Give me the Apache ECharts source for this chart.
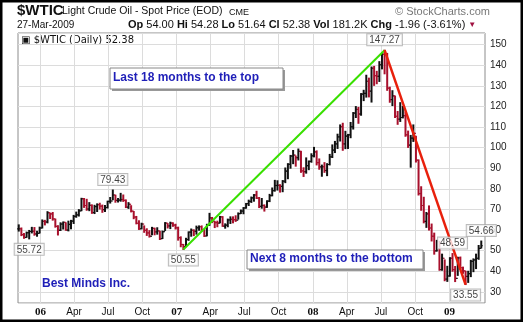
<!DOCTYPE html>
<html>
<head>
<meta charset="utf-8">
<script src="https://cdn.jsdelivr.net/npm/echarts@6/dist/echarts.min.js"></script>
<style>
  html, body { margin: 0; padding: 0; background: #fff; }
  #chart { width: 523px; height: 322px; }
</style>
</head>
<body>
<div id="chart"></div>
<script>
// Weekly bars (Friday closes), first week ends 4-Nov-2005
const firstWeek = Date.UTC(2005, 10, 4);
const DAY = 86400000;

const weekClose = [
  60.6, 57.8, 56.4, 58.7, 59.3, 59.4, 58.1, 58.4, 61.0,
  64.2, 63.9, 68.4, 67.8, 65.4, 61.8, 59.9, 62.9, 63.7, 60.0, 62.7, 64.3, 66.6,
  67.4, 69.3, 75.2, 71.9, 70.2, 72.0, 68.5, 71.4, 72.3, 71.6, 69.9, 70.9, 73.9,
  74.1, 77.0, 74.4, 74.5, 74.8, 74.4, 71.1, 72.5, 69.2, 66.3, 63.3, 60.6, 62.9,
  59.8, 58.6, 57.0, 60.8, 59.1, 59.6, 55.8, 59.2, 63.4, 62.0, 63.4, 62.4, 61.1,
  56.3, 53.0, 52.0, 55.4, 59.0, 59.9, 59.4, 61.1, 61.6, 60.1, 57.1, 62.3, 65.9,
  64.3, 63.6, 63.4, 66.4, 61.9, 62.4, 64.9, 65.2, 65.1, 64.8, 68.0, 69.2, 70.7,
  72.8, 73.9, 75.6, 77.0, 75.5, 71.5, 71.9, 71.1, 74.0, 76.7, 79.1, 81.6, 81.7,
  81.2, 83.7, 88.6, 91.9, 95.9, 96.3, 95.1, 98.2, 88.7, 88.3, 91.3, 93.3, 96.0,
  97.9, 92.7, 90.6, 90.7, 88.9, 91.8, 95.5, 98.8, 101.8, 105.2, 110.2, 101.8, 105.6,
  106.2, 110.1, 116.7, 118.5, 116.3, 125.9, 126.3, 132.2, 127.4, 138.5, 134.9, 134.6, 140.2,
  145.3, 145.1, 128.9, 123.3, 125.1, 115.2, 113.8, 114.6, 115.5, 106.2, 101.2, 104.6, 106.9,
  93.9, 77.7, 71.9, 64.2, 67.8, 61.0, 57.0, 49.9, 54.4, 40.8, 46.3, 36.2, 37.7,
  46.3, 40.8, 36.5, 46.5, 41.7, 40.2, 37.5, 38.9, 44.8, 45.5, 46.3, 51.1, 52.38
];
const weekHigh = [
  62.5, 61.0, 58.3, 59.0, 59.8, 61.3, 61.2, 59.4, 61.4,
  64.9, 64.7, 68.9, 68.2, 68.5, 65.3, 62.1, 63.5, 63.9, 63.5, 64.3, 64.7, 67.1,
  68.7, 69.9, 75.4, 75.3, 74.9, 73.3, 72.2, 72.0, 72.7, 73.0, 72.1, 71.9, 74.0,
  75.8, 79.43, 76.9, 75.3, 77.8, 77.0, 74.6, 73.3, 71.8, 69.0, 66.6, 64.5, 63.3,
  62.0, 60.6, 59.7, 61.3, 60.9, 61.1, 59.4, 59.5, 63.6, 63.1, 63.8, 63.5, 62.8,
  61.4, 56.7, 53.0, 56.0, 59.1, 60.5, 60.1, 61.9, 62.0, 62.0, 60.2, 62.8, 68.1,
  66.1, 64.2, 64.3, 66.6, 66.5, 63.0, 65.3, 66.4, 66.4, 66.9, 68.3, 69.7, 70.9,
  72.9, 74.5, 76.0, 77.2, 78.8, 75.8, 75.3, 72.2, 74.2, 77.3, 80.4, 84.1, 83.9,
  82.0, 84.0, 90.1, 92.2, 96.2, 98.6, 95.9, 99.3, 98.2, 90.2, 95.0, 93.5, 97.0,
  100.1, 98.4, 94.5, 91.5, 92.7, 92.2, 96.7, 101.3, 103.0, 106.5, 111.0, 111.8, 107.9,
  106.4, 112.2, 117.0, 119.9, 119.5, 126.2, 127.8, 135.1, 133.7, 139.1, 139.4, 137.0, 141.7,
  145.8, 147.27, 145.7, 129.3, 127.6, 125.0, 117.5, 121.8, 120.0, 117.2, 108.0, 105.9, 111.0,
  105.5, 94.0, 81.0, 75.9, 68.5, 71.7, 62.9, 58.5, 55.0, 54.5, 48.3, 45.5, 42.4,
  46.6, 48.59, 42.3, 46.8, 46.9, 42.0, 40.0, 40.0, 45.3, 46.0, 48.3, 52.5, 54.66
];
const weekLow = [
  59.5, 57.3, 56.0, 56.5, 55.72, 58.6, 57.5, 57.0, 58.6,
  61.0, 62.5, 63.5, 65.6, 64.8, 61.4, 57.6, 59.8, 60.5, 59.9, 59.6, 60.6, 63.2,
  66.2, 66.8, 69.4, 71.0, 69.6, 69.4, 68.1, 68.0, 69.0, 70.2, 68.6, 69.0, 70.7,
  73.1, 74.7, 73.5, 73.6, 74.0, 73.9, 70.9, 70.5, 68.8, 65.5, 63.0, 60.3, 60.6,
  58.9, 57.4, 56.6, 57.7, 57.7, 58.0, 55.4, 55.9, 59.8, 61.0, 60.7, 61.8, 60.5,
  55.1, 51.9, 50.55, 51.9, 55.0, 57.0, 57.3, 58.0, 59.9, 59.5, 56.9, 57.2, 62.3,
  63.6, 61.2, 61.6, 63.5, 61.8, 60.9, 61.6, 63.2, 63.5, 64.2, 65.3, 68.0, 67.9,
  70.6, 71.9, 73.4, 74.0, 75.3, 70.9, 70.6, 69.2, 71.0, 73.8, 76.6, 78.9, 79.4,
  78.4, 78.6, 83.0, 84.9, 90.0, 92.2, 91.0, 94.0, 88.0, 86.0, 87.6, 89.3, 92.9,
  95.5, 91.6, 89.5, 86.1, 88.0, 86.4, 91.6, 95.2, 97.6, 99.6, 103.2, 98.7, 99.5,
  99.6, 104.8, 109.0, 114.6, 111.8, 115.7, 122.8, 124.5, 124.6, 122.1, 130.2, 131.0, 132.1,
  138.2, 135.8, 127.8, 122.0, 120.4, 114.6, 111.3, 112.7, 114.4, 105.5, 100.1, 90.5, 103.0,
  93.0, 77.0, 69.6, 63.5, 61.3, 60.0, 54.7, 48.3, 49.8, 40.5, 40.5, 35.4, 35.1,
  37.6, 40.0, 35.0, 38.0, 40.9, 39.0, 33.55, 34.6, 37.4, 39.8, 41.3, 45.8, 51.3
];

// Price axis labels and quarter starts for the date axis
const priceTicks = [30, 40, 50, 60, 70, 80, 90, 100, 110, 120, 130, 140, 150];
const quarterStarts = [
  '2006-01-01', '2006-04-01', '2006-07-01', '2006-10-01',
  '2007-01-01', '2007-04-01', '2007-07-01', '2007-10-01',
  '2008-01-01', '2008-04-01', '2008-07-01', '2008-10-01',
  '2009-01-01'
];
const monthNames = ['Jan', 'Feb', 'Mar', 'Apr', 'May', 'Jun', 'Jul', 'Aug', 'Sep', 'Oct', 'Nov', 'Dec'];

// Value callouts: [week ending, which series, label side]
const callouts = [
  ['2005-12-02', 'low', 'bottom'],
  ['2006-07-14', 'high', 'top'],
  ['2007-01-19', 'low', 'bottom'],
  ['2008-07-11', 'high', 'top'],
  ['2009-01-09', 'high', 'top'],
  ['2009-02-13', 'low', 'bottom'],
  ['2009-03-27', 'high', 'top']
];
// Trend lines drawn between callout points (indexes into callouts)
const upTrend = [2, 3];
const downTrend = [3, 5];

const weekTime = i => firstWeek + i * 7 * DAY;
const parseDay = s => { const p = s.split('-').map(Number); return Date.UTC(p[0], p[1] - 1, p[2]); };
const weekIndex = s => Math.round((parseDay(s) - firstWeek) / (7 * DAY));

const bars = weekClose.map((c, i) => [
  weekTime(i), weekHigh[i], weekLow[i], c, i > 0 && c < weekClose[i - 1] ? 1 : 0,
  i > 0 ? weekClose[i - 1] : c
]);

const calloutPts = callouts.map(([d, kind, side]) => {
  const i = weekIndex(d);
  const v = kind === 'high' ? weekHigh[i] : weekLow[i];
  return { value: [weekTime(i), v], label: { position: side } };
});
const trendData = idx => idx.map(k => calloutPts[k].value);

const chart = echarts.init(document.getElementById('chart'), null, { renderer: 'canvas' });

const FONT = 'Liberation Sans, Arial, sans-serif';
const BLUE = '#1f1fb8';
const quarterTimes = quarterStarts.map(parseDay);

chart.setOption({
  animation: false,
  backgroundColor: '#fff',
  grid: { left: 18, right: 38, top: 33, bottom: 19, show: true, borderColor: '#8c8c8c', borderWidth: 1, backgroundColor: '#fff' },
  xAxis: {
    type: 'value',
    min: Date.UTC(2005, 10, 2),
    max: Date.UTC(2009, 3, 6),
    axisLine: { show: false },
    axisTick: { show: false, customValues: quarterTimes },
    splitLine: { show: true, lineStyle: { color: '#dcdcdc', width: 1 } },
    axisLabel: {
      customValues: quarterTimes,
      margin: 4,
      color: '#111',
      fontFamily: FONT,
      fontSize: 10,
      formatter: v => {
        const d = new Date(v);
        const m = d.getUTCMonth();
        if (m === 0) return '{y|' + String(d.getUTCFullYear()).slice(2) + '}';
        return monthNames[m];
      },
      rich: { y: { fontWeight: 'bold', fontSize: 11, fontFamily: 'Liberation Serif, Times New Roman, serif', color: '#111' } }
    }
  },
  yAxis: {
    type: 'value',
    position: 'right',
    min: 24.6,
    max: 155.6,
    splitNumber: 13,
    axisLine: { show: false },
    axisTick: { show: false },
    splitLine: { show: true, lineStyle: { color: '#dcdcdc', width: 1 } },
    axisLabel: {
      showMinLabel: false,
      showMaxLabel: false,
      margin: 5,
      color: '#222',
      fontFamily: FONT,
      fontSize: 10,
      formatter: v => (priceTicks.indexOf(Math.round(v)) >= 0 ? String(Math.round(v)) : '')
    }
  },
  series: [
    {
      name: 'WTIC',
      type: 'custom',
      data: bars,
      encode: { x: 0, y: [1, 2, 3] },
      renderItem: (params, api) => {
        const t = api.value(0);
        const hi = api.coord([t, api.value(1)]);
        const lo = api.coord([t, api.value(2)]);
        const cl = api.coord([t, api.value(3)]);
        const op = api.coord([t, api.value(5)]);
        const color = api.value(4) ? '#a8102c' : '#111';
        return {
          type: 'group',
          children: [
            { type: 'line', shape: { x1: hi[0], y1: hi[1] - 0.5, x2: lo[0], y2: lo[1] + 0.5 }, style: { stroke: color, lineWidth: 2 } },
            { type: 'line', shape: { x1: op[0] - 1.6, y1: op[1], x2: op[0], y2: op[1] }, style: { stroke: color, lineWidth: 1.2 } },
            { type: 'line', shape: { x1: cl[0], y1: cl[1], x2: cl[0] + 1.6, y2: cl[1] }, style: { stroke: color, lineWidth: 1.2 } }
          ]
        };
      },
      z: 3
    },
    {
      name: 'up',
      type: 'line',
      data: trendData(upTrend),
      symbol: 'none',
      lineStyle: { color: '#38e000', width: 2 },
      z: 4
    },
    {
      name: 'down',
      type: 'line',
      data: trendData(downTrend),
      symbol: 'none',
      lineStyle: { color: '#e8200c', width: 2.5 },
      z: 4
    },
    {
      name: 'callouts',
      type: 'scatter',
      data: calloutPts,
      symbolSize: 0,
      z: 6,
      label: {
        show: true,
        distance: 5,
        formatter: p => p.value[1].toFixed(2),
        fontFamily: FONT,
        fontSize: 10,
        color: '#111',
        backgroundColor: '#fff',
        borderColor: '#aaa',
        borderWidth: 1,
        padding: [1, 2, 0, 2]
      }
    }
  ],
  graphic: [
    { type: 'text', left: 17, top: 3, style: { text: '$WTIC', font: 'bold 15px ' + FONT, fill: '#111' } },
    { type: 'text', left: 62, top: 6, style: { text: 'Light Crude Oil - Spot Price (EOD)', font: '10.5px ' + FONT, fill: '#111' } },
    { type: 'text', left: 229, top: 8, style: { text: 'CME', font: '9px ' + FONT, fill: '#111' } },
    { type: 'text', left: 395, top: 6, style: { text: '\u00a9 StockCharts.com', font: '11px ' + FONT, fill: '#777' } },
    { type: 'text', left: 17, top: 20, style: { text: '27-Mar-2009', font: '10px ' + FONT, fill: '#111' } },
    {
      type: 'text', left: 128, top: 19,
      style: {
        text: '{b|Op} 54.00 {b|Hi} 54.28 {b|Lo} 51.64 {b|Cl} 52.38 {b|Vol} 181.2K {b|Chg} -1.96 (-3.61%) {r|\u25bc}',
        font: '11px ' + FONT, fill: '#111',
        rich: { b: { fontWeight: 'bold', fontSize: 11, fontFamily: FONT }, r: { fill: '#a01040', fontSize: 8 } }
      }
    },
    { type: 'text', left: 21, top: 35, style: { text: '\u25a3 $WTIC (Daily) 52.38', font: '10px DejaVu Sans, Verdana, sans-serif', fill: '#111' } },
    // Annotation boxes
    { type: 'rect', shape: { x: 112, y: 70, width: 173, height: 21 }, style: { fill: '#999' }, z: 10 },
    { type: 'rect', shape: { x: 110, y: 68, width: 173, height: 21 }, style: { fill: '#fff', stroke: '#888', lineWidth: 1 }, z: 11 },
    { type: 'text', left: 113, top: 72, z: 12, style: { text: 'Last 18 months to the top', font: 'bold 12px ' + FONT, fill: BLUE } },
    { type: 'rect', shape: { x: 249, y: 252, width: 176, height: 19 }, style: { fill: '#999' }, z: 10 },
    { type: 'rect', shape: { x: 247, y: 250, width: 176, height: 19 }, style: { fill: '#fff', stroke: '#888', lineWidth: 1 }, z: 11 },
    { type: 'text', left: 250, top: 253, z: 12, style: { text: 'Next 8 months to the bottom', font: 'bold 12px ' + FONT, fill: BLUE } },
    { type: 'text', left: 42, top: 278, z: 12, style: { text: 'Best Minds Inc.', font: 'bold 12px ' + FONT, fill: BLUE } },
    // Outer frame
    { type: 'rect', shape: { x: 1, y: 1, width: 521, height: 320 }, style: { fill: 'none', stroke: '#000', lineWidth: 3 }, z: 20 }
  ]
});
</script>
</body>
</html>
